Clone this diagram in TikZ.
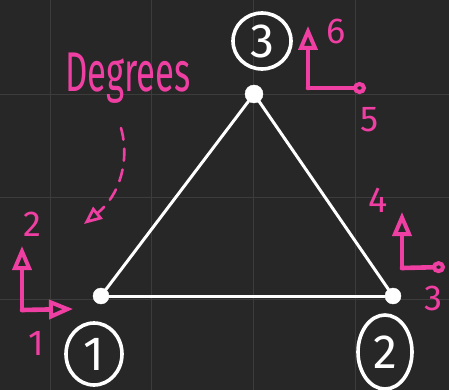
\documentclass[tikz,border=0pt]{standalone}
\usepackage{fontspec}
\setmainfont{Fira Sans}
\usetikzlibrary{arrows.meta,shapes.geometric}
\definecolor{board}{HTML}{272727}
\definecolor{gridc}{HTML}{3C3C3C}
\definecolor{chalkpink}{HTML}{F03FA3}
\tikzset{
  member/.style={white, line width=3pt, line cap=round},
  joint/.style={circle, fill=white, draw=white, minimum size=16pt, inner sep=0pt},
  numcircle/.style={ellipse, draw=white, line width=3.6pt, text=white, font=\fontsize{48}{48}\selectfont, inner sep=0pt, minimum width=#1},
  dof/.style={chalkpink, line width=4.6pt, line cap=round, line join=round},
  dofhead/.style={-{Triangle[open, length=24pt, width=19pt, line width=4pt]}},
  dofcirc/.style={-{Circle[open, length=13pt, width=12pt, line width=4pt]}},
  doflabel/.style={text=chalkpink, font=\fontsize{36}{36}\selectfont, inner sep=0pt},
}
\begin{document}
\begin{tikzpicture}[x=1pt, y=-1pt]
\useasboundingbox (0,0) rectangle (449,390);
\fill[board] (0,0) rectangle (449,390);
\foreach \gx in {50,151,253,355} \draw[gridc, line width=1pt] (\gx,0) -- (\gx,390);
\foreach \gy in {95,197,299} \draw[gridc, line width=1pt] (0,\gy) -- (449,\gy);

% joints
\node[joint] (n1) at (101,296) {};
\node[joint] (n2) at (393,296) {};
\node[joint, minimum width=18pt, minimum height=17pt] (n3) at (254,94) {};
\draw[member] (n1) -- (n2);
\draw[member] (n2) -- (n3);
\draw[member] (n3) -- (n1);

% node numbers
\node[numcircle=56pt, minimum height=62pt] (c1) at (94,354) {1};
\node[numcircle=54pt, minimum height=74pt] (c2) at (385,352) {2};
\node[numcircle=58pt, minimum height=56pt] (c3) at (262,41) {3};

% DOFs at node 1
\coordinate (o1) at (22,310);
\coordinate (u1) at (22,246);
\coordinate (r1) at (73,309);
\draw[dof, dofhead] (o1) -- (u1);
\draw[dof, dofhead] (o1) -- (r1);
\node[doflabel] (l2) at (32,224) {2};
\node[doflabel] (l1) at (36,343) {1};

% DOFs at node 2
\coordinate (o2) at (402,268);
\coordinate (u2) at (402,212);
\coordinate (r2) at (445,267);
\draw[dof, dofhead] (o2) -- (u2);
\draw[dof, dofcirc] (o2) -- (r2);
\node[doflabel] (l4) at (378,200) {4};
\node[doflabel] (l3) at (433,298) {3};

% DOFs at node 3
\coordinate (o3) at (308,88);
\coordinate (u3) at (308,26);
\coordinate (r3) at (366,88);
\draw[dof, dofhead] (o3) -- (u3);
\draw[dof, dofcirc] (o3) -- (r3);
\node[doflabel] (l6) at (336,31) {6};
\node[doflabel] (l5) at (370,120) {5};

% label
\node[text=chalkpink, font=\fontsize{56}{56}\selectfont, inner sep=0pt, xscale=0.62] (deg) at (128,78) {Degrees};
\coordinate (dstart) at (121,128);
\coordinate (dtip) at (84,224);
\draw[dof, line width=2.6pt, dash pattern=on 12pt off 9pt, -{Triangle[open, length=18pt, width=15pt, line width=2.8pt]}]
  (dstart) .. controls (130,160) and (120,195) .. (dtip);
\end{tikzpicture}
\end{document}
